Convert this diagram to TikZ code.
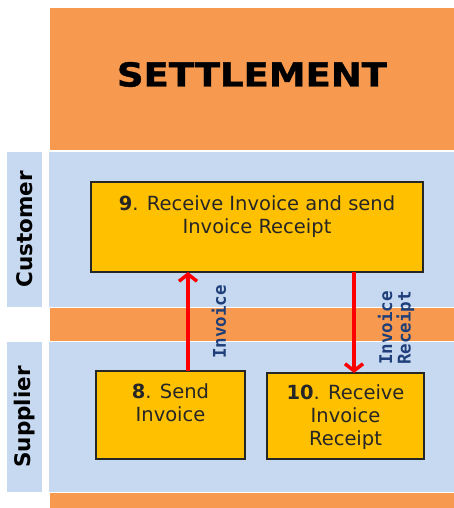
\documentclass[tikz,border=0pt]{standalone}
\usepackage{fontspec}
\setmainfont{DejaVu Sans}
\newfontfamily\titlefont[FakeStretch=1.12, FakeBold=1.2]{DejaVu Sans}
\newfontfamily\flowfont{DejaVu Sans Mono}
\usepackage{tikz}
\usetikzlibrary{arrows.meta,positioning}

\definecolor{bandorange}{HTML}{F79A4F}
\definecolor{laneblue}{HTML}{C6D9F0}
\definecolor{boxgold}{HTML}{FFC000}
\definecolor{flowblue}{HTML}{1F3F7A}

\begin{document}
\begin{tikzpicture}[x=1pt, y=-1pt, >={Straight Barb[length=7pt, width=18pt]},
    box/.style={draw=black!85, line width=1.2pt, fill=boxgold, outer sep=0pt, inner sep=0pt},
    boxtext/.style={align=center, inner sep=0pt, text=black!85, font=\fontsize{19.5}{23}\selectfont},
    lanelabel/.style={fill=laneblue, rotate=90, minimum height=35pt, inner sep=0pt, font=\fontsize{21.5}{24}\selectfont\bfseries},
    flow/.style={red, line width=3.5pt},
    flowlabel/.style={rotate=90, align=center, inner sep=0pt, text=flowblue, font=\fontsize{17.5}{18.5}\selectfont\flowfont\bfseries}]

    \useasboundingbox (0,0) rectangle (454,508);

    % Bands
    \fill[bandorange] (50,8) rectangle (454,150);
    \fill[laneblue] (49,152) rectangle (454,307);
    \fill[bandorange] (50,308) rectangle (454,341);
    \fill[laneblue] (49,342) rectangle (454,492);
    \fill[bandorange] (50,493) rectangle (454,508);

    % Title
    \node at (252,86.5) [anchor=base, font=\fontsize{33}{38}\selectfont\titlefont\bfseries] (title) {SETTLEMENT};

    % Lane labels
    \node at (24.5,229.5) [lanelabel, minimum width=155pt] (cust) {Customer};
    \node at (24.5,417) [lanelabel, minimum width=150pt] (supp) {Supplier};

    % Boxes
    \node at (257,227) [box, minimum width=332pt, minimum height=90pt] (b9) {};
    \node at (170.5,415) [box, minimum width=149pt, minimum height=88pt] (b8) {};
    \node at (345.5,416) [box, minimum width=157pt, minimum height=86pt] (b10) {};

    \node [boxtext, below=13pt of b9.north] (t9) {\textbf{9}. Receive Invoice and send\\Invoice Receipt};
    \node [boxtext, below=12pt of b8.north] (t8) {\textbf{8}. Send\\Invoice};
    \node [boxtext, below=11pt of b10.north] (t10) {\textbf{10}. Receive\\Invoice\\Receipt};

    % Arrows
    \draw[->, flow] ([xshift=17.5pt]b8.north) -- ([xshift=17.5pt]b8.north |- b9.south);
    \draw[->, flow] ([xshift=8.5pt]b10.north |- b9.south) -- ([xshift=8.5pt]b10.north);

    \node at (219,322) [flowlabel] (linv) {Invoice};
    \node at (396,328) [flowlabel] (lrec) {Invoice\\Receipt};

\end{tikzpicture}
\end{document}
